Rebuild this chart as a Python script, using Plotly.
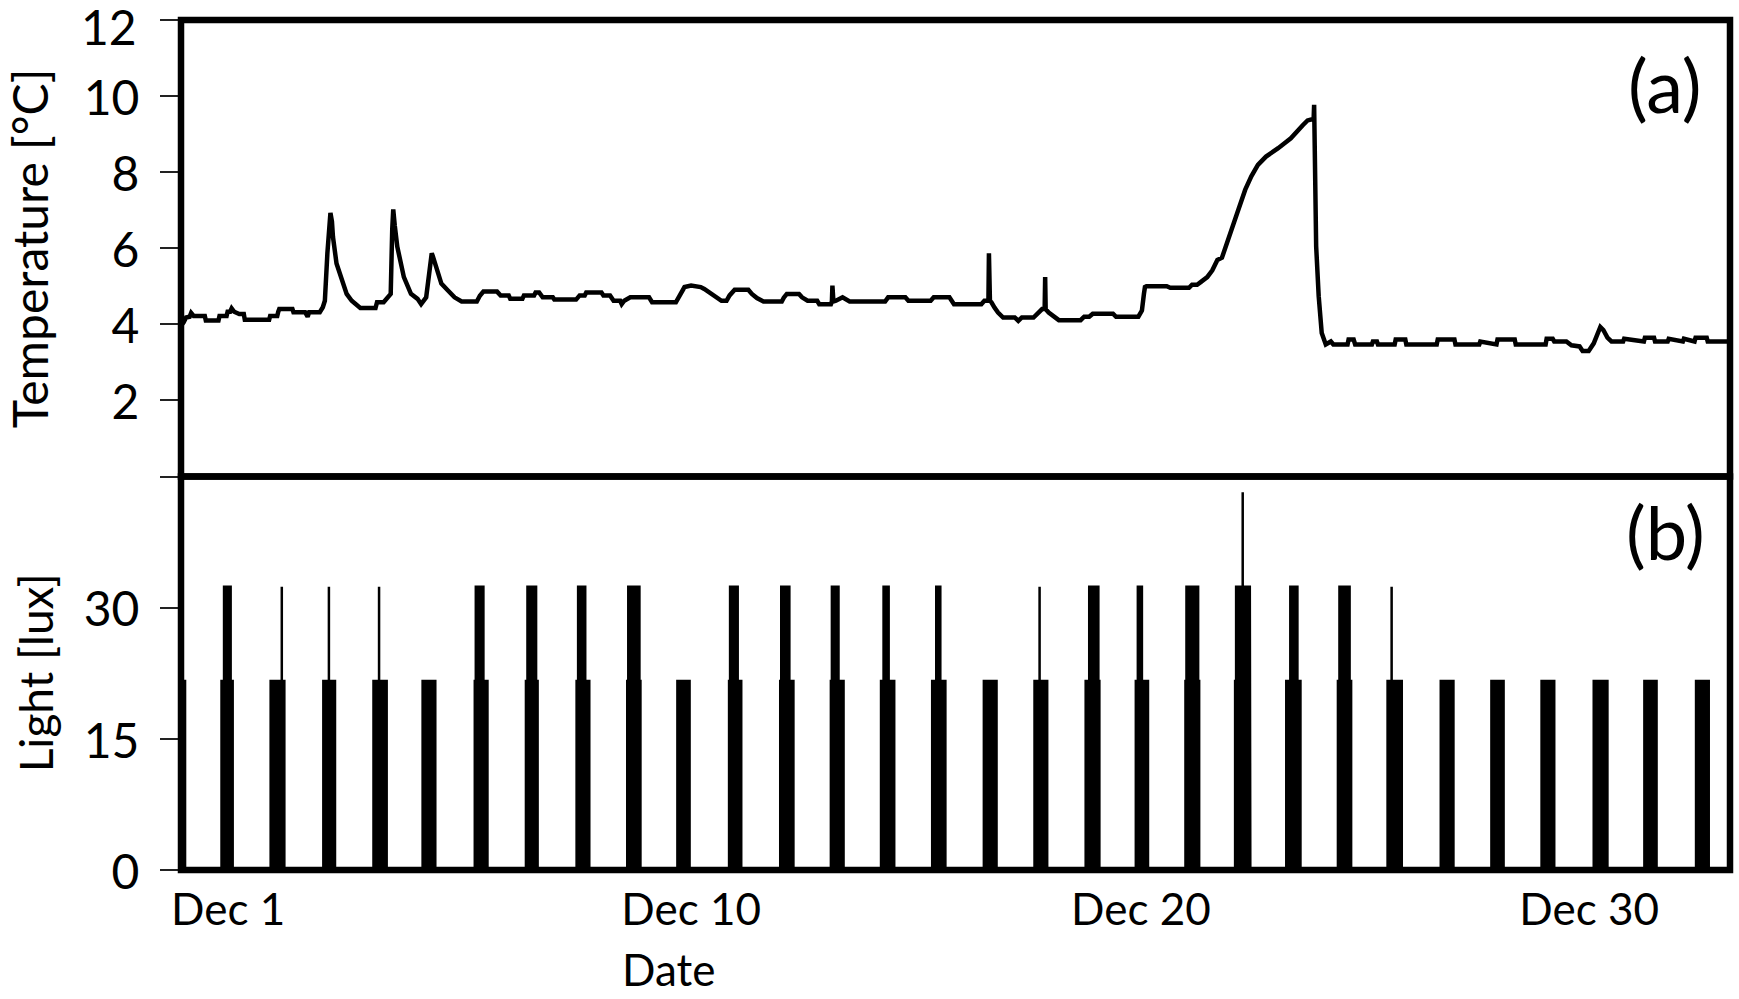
import plotly.graph_objects as go
from plotly.subplots import make_subplots

# Time axis: days after the start of the record (Dec 1)
temp_day = [
    0.00, 0.04, 0.10, 0.15, 0.22, 0.25, 0.30, 0.52, 0.54, 0.79, 0.81, 0.95, 0.97, 1.02, 1.05, 1.10,
    1.20, 1.29, 1.31, 1.79, 1.81, 1.95, 1.97, 1.99, 2.25, 2.27, 2.50, 2.55, 2.58, 2.79, 2.85, 2.89,
    2.94, 2.98, 3.00, 3.03, 3.05, 3.12, 3.22, 3.32, 3.42, 3.52, 3.59, 3.89, 3.92, 4.05, 4.12, 4.19,
    4.22, 4.24, 4.27, 4.32, 4.45, 4.59, 4.72, 4.79, 4.89, 4.95, 5.00, 5.02, 5.09, 5.19, 5.32, 5.45,
    5.59, 5.89, 5.95, 6.02, 6.29, 6.36, 6.52, 6.55, 6.79, 6.82, 7.02, 7.05, 7.12, 7.19, 7.39, 7.42,
    7.85, 7.92, 8.02, 8.05, 8.35, 8.39, 8.52, 8.59, 8.72, 8.75, 8.80, 8.92, 9.29, 9.35, 9.82, 9.89,
    9.99, 10.12, 10.31, 10.38, 10.48, 10.58, 10.72, 10.82, 10.88, 10.98, 11.25, 11.32, 11.42, 11.55,
    11.91, 11.95, 12.01, 12.25, 12.31, 12.42, 12.61, 12.65, 12.88, 12.90, 12.91, 12.93, 12.98, 13.11,
    13.25, 13.95, 14.01, 14.35, 14.41, 14.85, 14.91, 15.22, 15.28, 15.31, 15.85, 15.91, 15.99, 16.00,
    16.02, 16.05, 16.11, 16.18, 16.28, 16.51, 16.58, 16.65, 16.88, 16.95, 17.05, 17.10, 17.11, 17.12,
    17.18, 17.28, 17.38, 17.81, 17.88, 17.98, 18.05, 18.45, 18.51, 18.95, 19.02, 19.06, 19.08, 19.11,
    19.51, 19.58, 19.95, 20.01, 20.11, 20.18, 20.31, 20.41, 20.51, 20.60, 20.73, 20.90, 21.06, 21.18,
    21.31, 21.47, 21.71, 21.96, 22.20, 22.29, 22.38, 22.41, 22.42, 22.44, 22.46, 22.51, 22.57, 22.65,
    22.75, 22.80, 23.08, 23.10, 23.20, 23.23, 23.56, 23.58, 23.66, 23.68, 24.01, 24.03, 24.22, 24.24,
    24.84, 24.86, 25.19, 25.21, 25.68, 25.70, 26.02, 26.04, 26.38, 26.40, 26.99, 27.01, 27.13, 27.16,
    27.40, 27.50, 27.66, 27.72, 27.84, 27.94, 28.01, 28.07, 28.13, 28.21, 28.29, 28.52, 28.54, 28.93,
    28.95, 29.13, 29.15, 29.40, 29.42, 29.70, 29.72, 29.93, 29.95, 30.17, 30.19, 30.63,
]
temp_c = [
    3.60, 3.95, 4.05, 4.18, 4.20, 4.30, 4.22, 4.22, 4.10, 4.10, 4.22, 4.22, 4.33, 4.33, 4.42, 4.33,
    4.27, 4.27, 4.12, 4.12, 4.22, 4.22, 4.33, 4.40, 4.40, 4.32, 4.32, 4.20, 4.32, 4.32, 4.45, 4.62,
    5.87, 6.80, 6.93, 6.70, 6.30, 5.60, 5.16, 4.80, 4.62, 4.49, 4.43, 4.43, 4.58, 4.58, 4.71, 4.80,
    6.50, 7.02, 6.60, 6.04, 5.24, 4.80, 4.67, 4.53, 4.71, 5.30, 5.87, 5.80, 5.50, 5.07, 4.89, 4.71,
    4.60, 4.60, 4.75, 4.86, 4.86, 4.76, 4.76, 4.67, 4.67, 4.76, 4.76, 4.84, 4.84, 4.71, 4.71, 4.65,
    4.65, 4.76, 4.76, 4.84, 4.84, 4.76, 4.76, 4.62, 4.62, 4.53, 4.62, 4.71, 4.71, 4.58, 4.58, 4.76,
    4.98, 5.02, 4.98, 4.93, 4.84, 4.73, 4.62, 4.62, 4.76, 4.91, 4.91, 4.80, 4.69, 4.60,
    4.60, 4.70, 4.80, 4.80, 4.71, 4.62, 4.62, 4.53, 4.53, 4.60, 5.02, 4.60, 4.62, 4.71,
    4.60, 4.60, 4.71, 4.71, 4.62, 4.62, 4.71, 4.71, 4.58, 4.53, 4.53, 4.62, 4.62, 5.87,
    4.62, 4.58, 4.44, 4.31, 4.18, 4.18, 4.09, 4.18, 4.18, 4.27, 4.40, 4.40, 5.24, 4.40,
    4.31, 4.22, 4.11, 4.11, 4.20, 4.20, 4.28, 4.28, 4.20, 4.20, 4.36, 4.80, 4.98, 5.00,
    5.00, 4.96, 4.96, 5.04, 5.04, 5.11, 5.24, 5.42, 5.69, 5.75, 6.30, 6.92, 7.54, 7.89,
    8.19, 8.41, 8.63, 8.89, 9.24, 9.36, 9.39, 9.39, 9.77, 7.50, 6.05, 4.74, 3.77, 3.47,
    3.55, 3.47, 3.47, 3.60, 3.60, 3.47, 3.47, 3.55, 3.55, 3.47, 3.47, 3.60, 3.60, 3.47,
    3.47, 3.60, 3.60, 3.47, 3.47, 3.55, 3.47, 3.60, 3.60, 3.47, 3.47, 3.62, 3.62, 3.55,
    3.55, 3.45, 3.42, 3.30, 3.30, 3.50, 3.70, 3.93, 3.85, 3.65, 3.55, 3.55, 3.62, 3.55,
    3.65, 3.65, 3.55, 3.55, 3.62, 3.55, 3.62, 3.55, 3.65, 3.65, 3.55, 3.55,
]

# Daily light events: block at pulse_lux, with optional brighter interval
pulse_on = [0.00, 0.85, 1.82, 2.86, 3.85, 4.82, 5.85, 6.86, 7.86, 8.86, 9.85, 10.87, 11.88, 12.88,
            13.87, 14.88, 15.90, 16.90, 17.91, 18.90, 19.88, 20.86, 21.87, 22.89, 23.87, 24.92,
            25.92, 26.91, 27.94, 28.94, 29.96]
pulse_off = [0.13, 1.07, 2.09, 3.09, 4.11, 5.07, 6.10, 7.09, 8.11, 9.12, 10.09, 11.11, 12.14, 13.13,
             14.13, 15.14, 16.15, 17.15, 18.18, 19.14, 20.15, 21.16, 22.15, 23.15, 24.15, 25.17,
             26.16, 27.16, 28.21, 29.18, 30.21]
pulse_lux = [21.6] * 31
spike_on = [None, 0.90, 2.04, 2.97, 3.96, None, 5.87, 6.89, 7.89, 8.88, None, 10.89, 11.90, 12.90,
            13.92, 14.96, None, 17.00, 17.98, 18.94, 19.90, 20.88, 21.95, 22.92, 23.95, None,
            None, None, None, None, None]
spike_off = [None, 1.03, 2.04, 2.97, 3.96, None, 6.02, 7.06, 8.03, 9.10, None, 11.04, 12.06, 13.03,
             14.02, 15.04, None, 17.00, 18.16, 19.02, 20.13, 21.15, 22.09, 23.12, 23.95, None,
             None, None, None, None, None]
spike_lux = 32.4
flash_day = 21.01
flash_lux = 43.2

light_x, light_y = [], []
for i, (on, off) in enumerate(zip(pulse_on, pulse_off)):
    light_x += [on, on]
    light_y += [0, pulse_lux[i]]
    if spike_on[i] is not None:
        light_x += [spike_on[i], spike_on[i]]
        light_y += [pulse_lux[i], spike_lux]
        if spike_on[i] < flash_day < spike_off[i]:
            light_x += [flash_day, flash_day, flash_day]
            light_y += [spike_lux, flash_lux, spike_lux]
        light_x += [spike_off[i], spike_off[i]]
        light_y += [spike_lux, pulse_lux[i]]
    light_x += [off, off]
    light_y += [pulse_lux[i], 0]

tick_pos = [0.98, 10.12, 19.0, 27.85]
tick_text = ["Dec 1", "Dec 10", "Dec 20", "Dec 30"]

FONT = "Lato"
L, R, T, B = 181, 9, 20, 129
PW = 1739 - L - R
PH = 999 - T - B

fig = make_subplots(rows=2, cols=1, shared_xaxes=True, vertical_spacing=0,
                    row_heights=[456.5, 393.5])

fig.add_trace(go.Scatter(
    x=temp_day, y=temp_c, mode="lines",
    line=dict(color="black", width=4.5),
    showlegend=False, hoverinfo="skip"
), row=1, col=1)

fig.add_trace(go.Scatter(
    x=light_x, y=light_y, mode="lines",
    line=dict(color="black", width=2.5),
    fill="tozeroy", fillcolor="black",
    showlegend=False, hoverinfo="skip"
), row=2, col=1)

# panel frames
for xr, yr in [("x domain", "y domain"), ("x2 domain", "y2 domain")]:
    fig.add_shape(type="rect", xref=xr, yref=yr, x0=0, x1=1, y0=0, y1=1,
                  line=dict(color="black", width=6.5))

fig.update_xaxes(range=[0.05, 30.63], showgrid=False, zeroline=False, showline=False,
                 ticks="", tickvals=tick_pos, ticktext=tick_text, automargin=False,
                 ticklabelstandoff=10, ticklabeloverflow="allow",
                 tickfont=dict(size=44, family=FONT, color="black"))
fig.update_yaxes(showgrid=False, zeroline=False, showline=False, automargin=False,
                 ticks="outside", ticklen=20, tickwidth=1.5, tickcolor="#222",
                 ticklabelstandoff=11, ticklabeloverflow="allow", ticklabelshift=2,
                 tickfont=dict(size=48, family=FONT, color="black"))

# the top "12" label sits a little below its tick in the original, placed separately
fig.update_yaxes(range=[0, 12], tickvals=[0, 2, 4, 6, 8, 10, 12],
                 ticktext=["", "2", "4", "6", "8", "10", ""], row=1, col=1)
fig.update_yaxes(range=[0, 45], tickvals=[0, 15, 30, 45],
                 ticktext=["0", "15", "30", ""], row=2, col=1)
fig.add_annotation(text="12", xref="paper", yref="y", x=(138.6 - L) / PW, y=11.84,
                   xanchor="right", yanchor="middle", showarrow=False,
                   font=dict(size=48, family=FONT, color="black"))

# axis titles and panel tags
fig.add_annotation(text="Temperature [°C]", textangle=-90, xref="paper", yref="y domain",
                   x=(29 - L) / PW, y=0.5, xanchor="center", yanchor="middle", showarrow=False,
                   font=dict(size=48, family=FONT, color="black"))
fig.add_annotation(text="Light [lux]", textangle=-90, xref="paper", yref="y2 domain",
                   x=(35 - L) / PW, y=0.5, xanchor="center", yanchor="middle", showarrow=False,
                   font=dict(size=46, family=FONT, color="black"))
fig.add_annotation(text="Date", xref="paper", yref="paper",
                   x=(668 - L) / PW, y=(870 - 969) / PH, xanchor="center",
                   yanchor="middle", showarrow=False,
                   font=dict(size=44, family=FONT, color="black"))
fig.add_annotation(text="(a)", xref="x", yref="y", x=29.35, y=10.3, showarrow=False,
                   xanchor="center", yanchor="middle",
                   font=dict(size=74, family=FONT, color="black"))
fig.add_annotation(text="(b)", xref="x2", yref="y2", x=29.35, y=38.75, showarrow=False,
                   xanchor="center", yanchor="middle",
                   font=dict(size=74, family=FONT, color="black"))

fig.update_layout(
    width=1739, height=999,
    margin=dict(l=L, r=R, t=T, b=B, autoexpand=False),
    plot_bgcolor="white", paper_bgcolor="white",
    font=dict(family=FONT, size=44, color="black"),
    showlegend=False,
)

# drop the default page margin so the figure sits at the window origin
fig.write_html("out.html", config={"displayModeBar": False},
               post_script="document.body.style.margin = '0px';")
